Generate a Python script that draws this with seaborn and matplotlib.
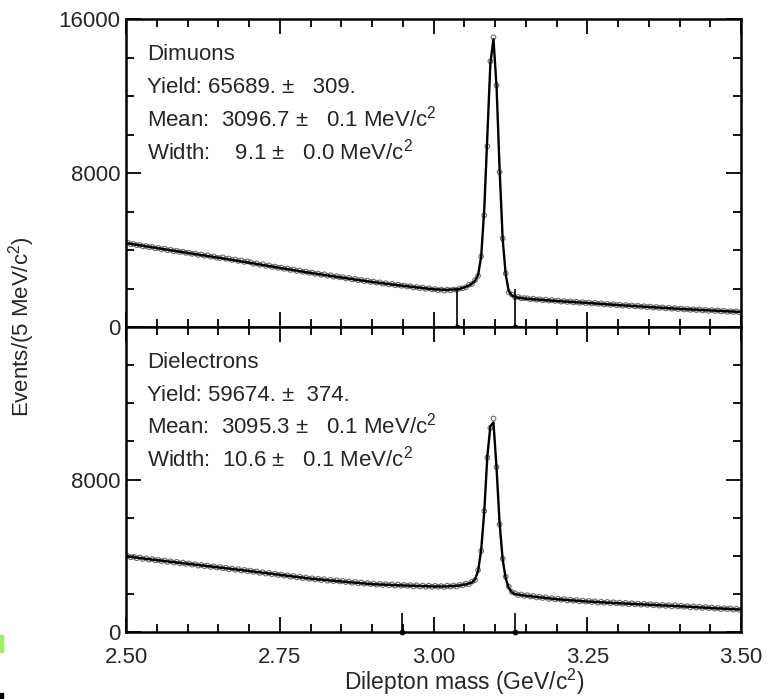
"""Dilepton mass spectra: dimuons and dielectrons around the J/psi."""

import matplotlib.pyplot as plt
import numpy as np
import pandas as pd
import seaborn as sns
from matplotlib.patches import Rectangle
from matplotlib.ticker import FixedLocator, MultipleLocator

# 5 MeV/c^2 bins between 2.50 and 3.50 GeV/c^2
BIN_CENTERS = np.round(np.arange(2.5025, 3.5, 0.005), 4)

MU_COUNTS = [
    4380, 4300, 4310, 4250, 4260, 4190, 4210, 4150, 4160, 4090,
    4110, 4040, 4070, 3990, 4010, 3940, 3960, 3900, 3910, 3850,
    3860, 3800, 3820, 3740, 3770, 3700, 3730, 3650, 3670, 3600,
    3580, 3620, 3540, 3560, 3480, 3510, 3430, 3460, 3380, 3410,
    3360, 3280, 3310, 3230, 3260, 3170, 3200, 3120, 3140, 3070,
    3090, 3020, 3040, 2960, 2990, 2910, 2940, 2860, 2880, 2810,
    2830, 2760, 2780, 2710, 2740, 2660, 2690, 2610, 2640, 2580,
    2590, 2520, 2550, 2470, 2500, 2430, 2450, 2380, 2410, 2340,
    2360, 2300, 2320, 2250, 2280, 2210, 2240, 2170, 2200, 2140,
    2160, 2100, 2120, 2050, 2080, 2020, 2050, 1980, 2010, 1950,
    1970, 1910, 1950, 1890, 1940, 1900, 1950, 1930, 2000, 2010,
    2060, 2190, 2230, 2430, 2660, 3670, 5800, 9380, 13800, 15050,
    12550, 8050, 4600, 2780, 1800, 1680, 1540, 1560, 1490, 1500,
    1490, 1440, 1470, 1420, 1440, 1390, 1420, 1370, 1400, 1350,
    1370, 1320, 1350, 1300, 1330, 1280, 1310, 1260, 1290, 1240,
    1270, 1220, 1250, 1200, 1230, 1170, 1200, 1150, 1180, 1130,
    1160, 1110, 1140, 1090, 1120, 1070, 1100, 1050, 1080, 1030,
    1060, 1010, 1040, 990, 1020, 970, 1000, 950, 980, 930,
    960, 910, 940, 890, 920, 880, 910, 860, 890, 840,
    880, 830, 860, 810, 840, 790, 820, 780, 810, 760,
]

EE_COUNTS = [
    3990, 3920, 3950, 3870, 3910, 3830, 3870, 3790, 3830, 3760,
    3780, 3720, 3750, 3670, 3710, 3640, 3680, 3600, 3640, 3570,
    3600, 3530, 3560, 3480, 3520, 3450, 3490, 3410, 3450, 3380,
    3410, 3340, 3370, 3290, 3330, 3260, 3300, 3220, 3260, 3190,
    3220, 3150, 3180, 3100, 3140, 3060, 3100, 3020, 3060, 2990,
    3020, 2950, 2980, 2900, 2940, 2860, 2900, 2820, 2860, 2790,
    2820, 2760, 2790, 2720, 2770, 2690, 2740, 2670, 2710, 2650,
    2680, 2620, 2650, 2580, 2630, 2550, 2600, 2530, 2570, 2510,
    2540, 2480, 2530, 2460, 2510, 2450, 2500, 2430, 2490, 2430,
    2470, 2420, 2460, 2390, 2450, 2380, 2440, 2370, 2430, 2370,
    2420, 2370, 2410, 2360, 2430, 2380, 2440, 2390, 2470, 2450,
    2530, 2510, 2640, 2720, 3250, 4250, 6350, 9150, 10700, 11200,
    8650, 5650, 3850, 2900, 2380, 2100, 2030, 1940, 1970, 1890,
    1930, 1860, 1890, 1810, 1850, 1780, 1820, 1740, 1780, 1710,
    1750, 1690, 1730, 1650, 1700, 1640, 1680, 1610, 1650, 1590,
    1630, 1570, 1610, 1540, 1590, 1530, 1580, 1510, 1560, 1500,
    1540, 1480, 1530, 1460, 1510, 1450, 1490, 1430, 1480, 1420,
    1460, 1400, 1440, 1380, 1430, 1370, 1410, 1340, 1400, 1340,
    1380, 1320, 1360, 1290, 1340, 1280, 1330, 1260, 1310, 1250,
    1290, 1230, 1270, 1200, 1250, 1200, 1240, 1170, 1220, 1160,
]

FIT_MASS = [
    2.50, 2.55, 2.60, 2.65, 2.70, 2.75, 2.80, 2.85, 2.90, 2.95, 3.00, 3.02,
    3.04, 3.0525, 3.0575, 3.0625, 3.0675, 3.0725, 3.0775, 3.0825, 3.0875,
    3.0925, 3.0975, 3.1025, 3.1075, 3.1125, 3.1175, 3.1225, 3.1275, 3.1325,
    3.14, 3.15, 3.20, 3.25, 3.30, 3.35, 3.40, 3.45, 3.50,
]
MU_FIT = [
    4360, 4100, 3850, 3600, 3340, 3070, 2810, 2570, 2340, 2140, 1960, 1930,
    1960, 2080, 2160, 2250, 2400, 2700, 3650, 6100, 9900,
    13700, 14950, 12500, 8200, 4550, 2700, 1850, 1640, 1560,
    1510, 1470, 1350, 1250, 1140, 1040, 940, 860, 780,
]
EE_FIT = [
    3970, 3770, 3580, 3390, 3200, 3000, 2800, 2650, 2510, 2440, 2390, 2390,
    2430, 2500, 2540, 2600, 2750, 3200, 4300, 6300, 9200,
    10800, 11000, 8600, 5700, 3800, 2800, 2300, 2080, 1990,
    1950, 1900, 1720, 1600, 1510, 1430, 1350, 1260, 1180,
]

# window markers drawn up from the baseline
MU_MARK_MASS = [3.0375, 3.133]
MU_MARK_HEIGHT = [2000, 1950]
EE_MARK_MASS = [2.948, 3.133]
EE_MARK_HEIGHT = [1000, 1000]

MU_TEXT = [
    "Dimuons",
    "Yield: 65689. \u00b1   309.",
    "Mean:  3096.7 \u00b1   0.1 MeV/c$^2$",
    "Width:    9.1 \u00b1   0.0 MeV/c$^2$",
]
EE_TEXT = [
    "Dielectrons",
    "Yield: 59674. \u00b1  374.",
    "Mean:  3095.3 \u00b1   0.1 MeV/c$^2$",
    "Width:  10.6 \u00b1   0.1 MeV/c$^2$",
]

X_TICKS = [2.50, 2.75, 3.00, 3.25, 3.50]
X_LABELS = ["2.50", "2.75", "3.00", "3.25", "3.50"]
Y_TICKS = [0, 8000, 16000]

sns.set_style("ticks")
plt.rcParams["font.family"] = ["Liberation Sans", "DejaVu Sans"]
plt.rcParams["mathtext.fontset"] = "custom"
plt.rcParams["mathtext.rm"] = "Liberation Sans"
plt.rcParams["mathtext.it"] = "Liberation Sans:italic"
plt.rcParams["mathtext.bf"] = "Liberation Sans:bold"


def _panel(ax, counts, fit, mark_mass, mark_height, lines, ylabels):
    df = pd.DataFrame({"mass": BIN_CENTERS, "events": counts})
    sns.scatterplot(
        data=df, x="mass", y="events", ax=ax, marker="o", s=11,
        fc="none", ec="#6e6e6e", linewidth=0.8, zorder=2,
    )
    sns.lineplot(x=FIT_MASS, y=fit, ax=ax, color="black", lw=1.7, zorder=3)
    ax.vlines(mark_mass, 0, mark_height, color="black", lw=1.2, zorder=3)
    ax.scatter(mark_mass, [0] * len(mark_mass), s=10, color="black", zorder=4,
               clip_on=False)

    ax.set_xlim(2.5, 3.5)
    ax.set_ylim(0, 16000)
    ax.xaxis.set_major_locator(FixedLocator(X_TICKS))
    ax.xaxis.set_minor_locator(MultipleLocator(0.05))
    ax.yaxis.set_major_locator(FixedLocator(Y_TICKS))
    ax.yaxis.set_minor_locator(MultipleLocator(2000))
    ax.set_yticklabels(ylabels)
    ax.tick_params(which="both", direction="in", top=True, right=True,
                   width=1.3, labelsize=16, color="black")
    ax.tick_params(which="major", length=11)
    ax.tick_params(which="minor", length=6)
    ax.tick_params(axis="x", pad=11)
    ax.tick_params(axis="y", pad=4)
    for s in ax.spines.values():
        s.set_linewidth(1.8)
        s.set_color("black")
    ax.set_xlabel("")
    ax.set_ylabel("")

    for i, line in enumerate(lines):
        ax.text(0.034, 0.867 - 0.108 * i, line, transform=ax.transAxes,
                fontsize=16, va="baseline", ha="left")


fig = plt.figure(figsize=(7.79, 6.99), dpi=100)
ax_top = fig.add_axes([126 / 779, 1 - 327 / 699, 615 / 779, 308 / 699])
ax_bot = fig.add_axes([126 / 779, 1 - 632 / 699, 615 / 779, 305 / 699])

_panel(ax_top, MU_COUNTS, MU_FIT, MU_MARK_MASS, MU_MARK_HEIGHT, MU_TEXT,
       ["0", "8000", "16000"])
_panel(ax_bot, EE_COUNTS, EE_FIT, EE_MARK_MASS, EE_MARK_HEIGHT, EE_TEXT,
       ["0", "8000", ""])
ax_top.set_xticklabels([])
ax_bot.set_xticklabels(X_LABELS)

fig.text(22 / 779, 1 - 327 / 699, "Events/(5 MeV/c$^2$)", rotation=90,
         ha="center", va="center", fontsize=16)
fig.text(464 / 779, 1 - 690 / 699, "Dilepton mass (GeV/c$^2$)",
         ha="center", va="baseline", fontsize=16.5)

# stray marks at the left edge of the original scan
fig.patches.append(Rectangle((0, 1 - 652 / 699), 3 / 779, 17 / 699,
                             transform=fig.transFigure, color="#9cf25a"))
fig.patches.append(Rectangle((0, 1 - 698 / 699), 3 / 779, 5 / 699,
                             transform=fig.transFigure, color="black"))

fig.savefig("out.png", dpi=100)
